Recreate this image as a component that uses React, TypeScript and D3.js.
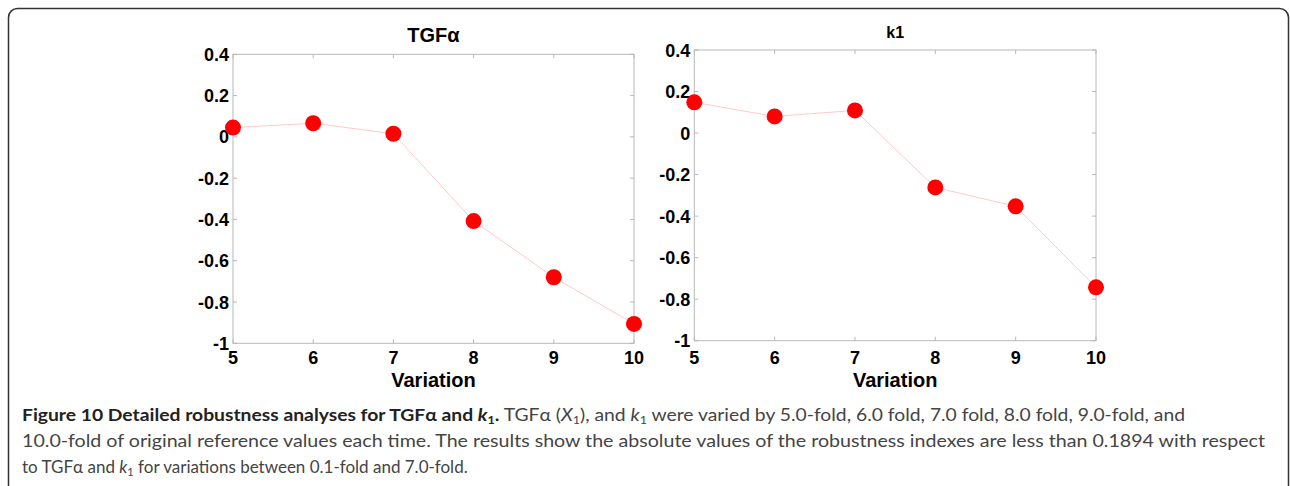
import * as d3 from "d3";

// variation (fold) on the x axis
const variations = [5, 6, 7, 8, 9, 10];
const tgfValues = [0.045, 0.066, 0.015, -0.408, -0.68, -0.906];
const k1Values = [0.148, 0.08, 0.109, -0.262, -0.353, -0.743];
const yTicks = [0.4, 0.2, 0, -0.2, -0.4, -0.6, -0.8, -1];
const yTickLabels = ["0.4", "0.2", "0", "-0.2", "-0.4", "-0.6", "-0.8", "-1"];

const AXIS_FONT = "Liberation Sans, Arial, Helvetica, sans-serif";
const CAPTION_FONT = "Lato, 'Open Sans', sans-serif";

type PanelProps = {
  values: number[];
  left: number;
  right: number;
  top: number;
  bottom: number;
  title: React.ReactNode;
  titleSize: number;
  titleY: number;
};

function Panel({ values, left, right, top, bottom, title, titleSize, titleY }: PanelProps) {
  const x = d3.scaleLinear().domain([5, 10]).range([left, right]);
  const y = d3.scaleLinear().domain([-1, 0.4]).range([bottom, top]);
  const line = d3
    .line<number>()
    .x((_, i) => x(variations[i]))
    .y((d) => y(d));
  const tickLen = 4;
  const grey = "#b8b8b8";
  const cx = (left + right) / 2;

  return (
    <g>
      <rect x={left} y={top} width={right - left} height={bottom - top} fill="none" stroke={grey} strokeWidth={1} />
      {/* ticks on all four sides, pointing inward */}
      {yTicks.map((t) => (
        <g key={"y" + t}>
          <line x1={left} x2={left + tickLen} y1={y(t)} y2={y(t)} stroke={grey} />
          <line x1={right} x2={right - tickLen} y1={y(t)} y2={y(t)} stroke={grey} />
        </g>
      ))}
      {variations.map((v) => (
        <g key={"x" + v}>
          <line x1={x(v)} x2={x(v)} y1={bottom} y2={bottom - tickLen} stroke={grey} />
          <line x1={x(v)} x2={x(v)} y1={top} y2={top + tickLen} stroke={grey} />
        </g>
      ))}
      {yTicks.map((t, i) => (
        <text
          key={"yl" + t}
          x={left - 4}
          y={y(t) + 6.5}
          textAnchor="end"
          fontFamily={AXIS_FONT}
          fontWeight="bold"
          fontSize={18}
          fill="#000"
        >
          {yTickLabels[i]}
        </text>
      ))}
      {variations.map((v) => (
        <text
          key={"xl" + v}
          x={x(v)}
          y={364}
          textAnchor="middle"
          fontFamily={AXIS_FONT}
          fontWeight="bold"
          fontSize={18}
          fill="#000"
        >
          {v}
        </text>
      ))}
      <path d={line(values) || ""} fill="none" stroke="#ffcaca" strokeWidth={1} />
      {values.map((d, i) => (
        <circle key={"c" + i} cx={x(variations[i])} cy={y(d)} r={8} fill="#ff0000" />
      ))}
      <text x={cx} y={titleY} textAnchor="middle" fontFamily={AXIS_FONT} fontWeight="bold" fontSize={titleSize} fill="#000">
        {title}
      </text>
      <text x={cx} y={387} textAnchor="middle" fontFamily={AXIS_FONT} fontWeight="bold" fontSize={20} fill="#000">
        Variation
      </text>
    </g>
  );
}

export default function App() {
  const capGrey = "#444";
  const sub = { baselineShift: "-3px", fontSize: 11 } as const;
  return (
    <svg width={1290} height={486} style={{ position: "absolute", left: 0, top: 0, background: "#fff" }}>
      <rect x={8.5} y={8.5} width={1280} height={520} rx={9} fill="#fff" stroke="#333" strokeWidth={1.5} />

      <Panel values={tgfValues} left={233} right={634} top={54.3} bottom={343.3} title="TGFα" titleSize={20} titleY={42} />
      <Panel values={k1Values} left={694.3} right={1096} top={50} bottom={340.7} title="k1" titleSize={16} titleY={38} />

      <g fontFamily={CAPTION_FONT} fontSize={17}>
        <text x={22} y={421} fill={capGrey} textLength={1163} lengthAdjust="spacingAndGlyphs">
          <tspan fontWeight="bold" fill="#222">Figure 10 Detailed robustness analyses for TGFα and </tspan>
          <tspan fontWeight="bold" fontStyle="italic" fill="#222">k</tspan>
          <tspan fontWeight="bold" fill="#222" style={sub}>1</tspan>
          <tspan fontWeight="bold" fill="#222">.</tspan>
          <tspan> TGFα (</tspan>
          <tspan fontStyle="italic">X</tspan>
          <tspan style={sub}>1</tspan>
          <tspan>), and </tspan>
          <tspan fontStyle="italic">k</tspan>
          <tspan style={sub}>1</tspan>
          <tspan> were varied by 5.0-fold, 6.0 fold, 7.0 fold, 8.0 fold, 9.0-fold, and</tspan>
        </text>
        <text x={22} y={447} fill={capGrey} textLength={1243} lengthAdjust="spacingAndGlyphs">
          10.0-fold of original reference values each time. The results show the absolute values of the robustness indexes are less than 0.1894 with respect
        </text>
        <text x={22} y={473} fill={capGrey}>
          <tspan>to TGFα and </tspan>
          <tspan fontStyle="italic">k</tspan>
          <tspan style={sub}>1</tspan>
          <tspan> for variations between 0.1-fold and 7.0-fold.</tspan>
        </text>
      </g>
    </svg>
  );
}
